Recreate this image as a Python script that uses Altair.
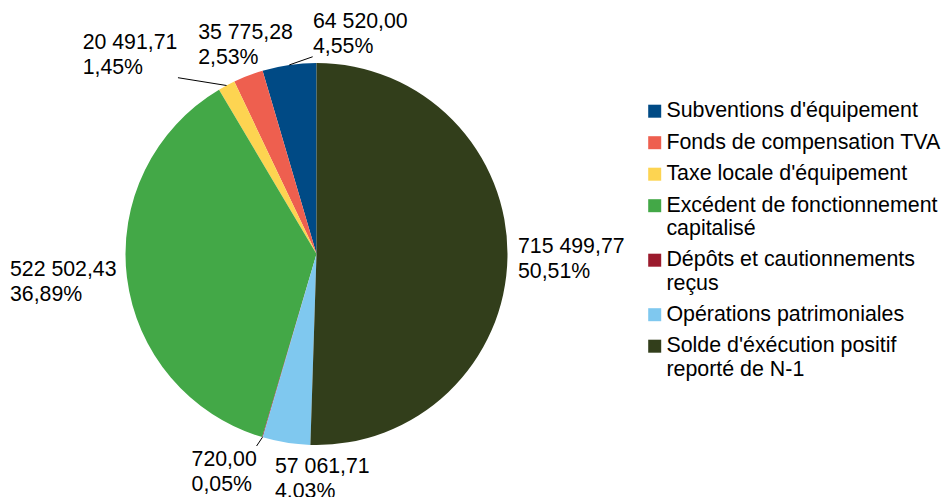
import json
import math
import altair as alt
import pandas as pd

# ---------------- data ----------------
categories = [
    "Subventions d'équipement",
    "Fonds de compensation TVA",
    "Taxe locale d'équipement",
    "Excédent de fonctionnement capitalisé",
    "Dépôts et cautionnements reçus",
    "Opérations patrimoniales",
    "Solde d'éxécution positif reporté de N-1",
]
values = [64520.00, 35775.28, 20491.71, 522502.43, 720.00, 57061.71, 715499.77]
value_labels = ["64 520,00", "35 775,28", "20 491,71", "522 502,43", "720,00", "57 061,71", "715 499,77"]
percent_labels = ["4,55%", "2,53%", "1,45%", "36,89%", "0,05%", "4,03%", "50,51%"]
legend_lines = [
    ["Subventions d'équipement"],
    ["Fonds de compensation TVA"],
    ["Taxe locale d'équipement"],
    ["Excédent de fonctionnement", "capitalisé"],
    ["Dépôts et cautionnements", "reçus"],
    ["Opérations patrimoniales"],
    ["Solde d'éxécution positif", "reporté de N-1"],
]

# ---------------- style / layout ----------------
colors = ["#004a85", "#ee5f4f", "#fdd451", "#43a847", "#9b1b2d", "#7fc8ef", "#323e1b"]
FONT = "Liberation Sans"
FS = 21.3
LEG_FS = 21.4
W, H = 934, 500
CX, CY, R = 308.5, 246.0, 191
# offset of each label block's first-line anchor from the slice's outer edge point
label_nudge = [(23.7, -37.3), (-50.1, -36.3), (-143.9, -36.2), (-117.0, -1.3),
               (-70.9, 28.4), (-11.4, 30.4), (10.5, -4.5)]
leader_end = {0: (23.4, -8.2), 2: (-48.6, -7.8), 4: (-5.9, 8.8)}

# slices are drawn clockwise from 12 o'clock in reverse legend order
n = len(categories)
draw_sequence = list(reversed(range(n)))
total = sum(values)
mid = {}
cum = 0.0
for i in draw_sequence:
    mid[i] = (cum + values[i] / 2) / total
    cum += values[i]

pie_df = pd.DataFrame({
    "category": categories,
    "value": values,
    "draw_rank": [n - 1 - i for i in range(n)],
})

label_rows, rule_rows = [], []
for i in range(n):
    a = mid[i] * 2 * math.pi
    ex, ey = CX + R * math.sin(a), CY - R * math.cos(a)
    dx, dy = label_nudge[i]
    label_rows.append({"x": ex + dx, "y": ey + dy,
                       "text": value_labels[i] + "\n" + percent_labels[i]})
    if i in leader_end:
        lx, ly = leader_end[i]
        rule_rows.append({"x": ex, "y": ey, "x2": ex + lx, "y2": ey + ly})
lab_df = pd.DataFrame(label_rows)
rule_df = pd.DataFrame(rule_rows)

# legend label wrapping
expr = ""
for name, lines in zip(categories, legend_lines):
    if len(lines) > 1:
        expr += f"datum.label == {json.dumps(name, ensure_ascii=False)} ? {json.dumps(lines, ensure_ascii=False)} : "
expr += "datum.label"

pie = alt.Chart(pie_df).mark_arc(radius=R).encode(
    theta=alt.Theta("value:Q", stack=True),
    order=alt.Order("draw_rank:Q", sort="ascending"),
    x=alt.value(CX),
    y=alt.value(CY),
    color=alt.Color(
        "category:N",
        scale=alt.Scale(domain=categories, range=colors),
        legend=alt.Legend(
            title=None,
            orient="none",
            legendX=636,
            legendY=92.5,
            symbolType="square",
            symbolSize=169,
            symbolStrokeWidth=0,
            labelFont=FONT,
            labelFontSize=LEG_FS,
            labelColor="#000000",
            labelOffset=1,
            labelLimit=0,
            labelExpr=expr,
            rowPadding=8.5,
        ),
    ),
)

labels = alt.Chart(lab_df).mark_text(
    align="left", baseline="alphabetic", lineBreak="\n", font=FONT,
    fontSize=FS, lineHeight=25, color="#000000",
).encode(
    x=alt.X("x:Q", scale=None),
    y=alt.Y("y:Q", scale=None),
    text="text:N",
)

rules = alt.Chart(rule_df).mark_rule(color="#000000", strokeWidth=1).encode(
    x=alt.X("x:Q", scale=None),
    y=alt.Y("y:Q", scale=None),
    x2="x2:Q",
    y2="y2:Q",
)

chart = alt.layer(pie, rules, labels).properties(
    width=W, height=H, padding=0, background="white",
    autosize=alt.AutoSizeParams(type="none"),
).configure_view(strokeWidth=0)

chart.save("out.html", embed_options={"renderer": "svg", "actions": False})
